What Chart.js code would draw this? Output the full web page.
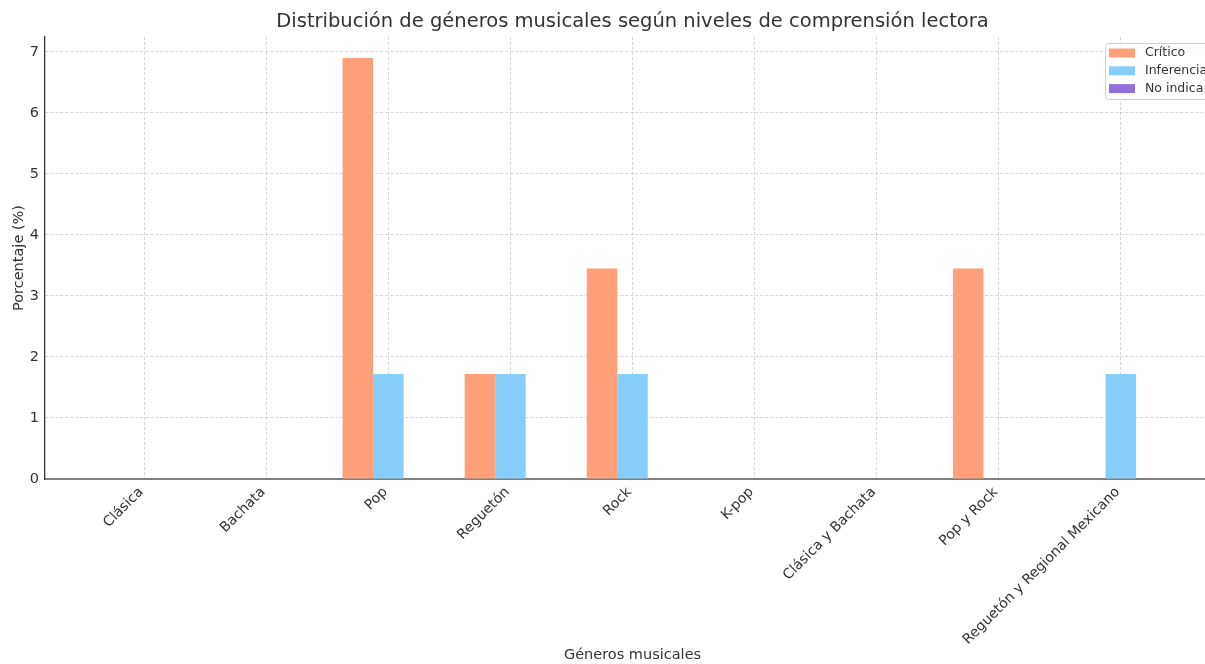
<!DOCTYPE html>
<html>
<head>
<meta charset="utf-8">
<script src="https://cdn.jsdelivr.net/npm/chart.js@4.4.1/dist/chart.umd.min.js"></script>
<style>
  html, body { margin: 0; padding: 0; background: #fff; overflow: hidden; }
  #wrap { width: 1220px; height: 664px; }
</style>
</head>
<body>
<div id="wrap"><canvas id="chart"></canvas></div>
<script>
const generos = ["Clásica", "Bachata", "Pop", "Reguetón", "Rock", "K-pop", "Clásica y Bachata", "Pop y Rock", "Reguetón y Regional Mexicano"];
const critico = [0, 0, 6.9, 1.72, 3.45, 0, 0, 3.45, 0];
const inferencia = [0, 0, 1.72, 1.72, 1.72, 0, 0, 0, 1.72];
const noIndica = [0, 0, 0, 0, 0, 0, 0, 0, 0];
const yTicks = [0, 1, 2, 3, 4, 5, 6, 7];

Chart.defaults.font.family = "'DejaVu Sans', sans-serif";
Chart.defaults.color = "#333";

const toPoints = (arr) => arr.map((v, i) => ({ x: i, y: v }));

// matplotlib-style boxed legend inside the plot, top right
const boxLegend = {
  id: "boxLegend",
  afterDraw(chart) {
    const { ctx, chartArea } = chart;
    const w = 111, h = 56;
    const x = chartArea.right - w - 4, y = chartArea.top + 6;
    ctx.save();
    ctx.fillStyle = "rgba(255,255,255,0.85)";
    ctx.strokeStyle = "#d0d0d0";
    ctx.lineWidth = 1;
    ctx.beginPath();
    ctx.roundRect(x + 0.5, y + 0.5, w, h, 3);
    ctx.fill();
    ctx.stroke();
    ctx.font = "12.5px 'DejaVu Sans'";
    ctx.textBaseline = "middle";
    chart.data.datasets.forEach((ds, i) => {
      const cy = y + 10 + i * 17.8;
      ctx.fillStyle = ds.backgroundColor;
      ctx.fillRect(x + 4, cy - 4.5, 26, 9);
      ctx.fillStyle = "#333";
      ctx.fillText(ds.label, x + 40, cy);
    });
    ctx.restore();
  },
};

// title centred over the plot area
const axesTitle = {
  id: "axesTitle",
  afterDraw(chart) {
    const { ctx, chartArea } = chart;
    ctx.save();
    ctx.font = "19.5px 'DejaVu Sans'";
    ctx.fillStyle = "#333";
    ctx.textAlign = "center";
    ctx.textBaseline = "middle";
    ctx.fillText("Distribución de géneros musicales según niveles de comprensión lectora", (chartArea.left + chartArea.right) / 2, 22);
    ctx.restore();
  },
};

new Chart(document.getElementById("chart"), {
  type: "bar",
  data: {
    datasets: [
      { label: "Crítico", data: toPoints(critico), backgroundColor: "#FFA07A" },
      { label: "Inferencia", data: toPoints(inferencia), backgroundColor: "#87CEFA" },
      { label: "No indica", data: toPoints(noIndica), backgroundColor: "#9370DB" },
    ],
  },
  options: {
    responsive: true,
    maintainAspectRatio: false,
    animation: false,
    layout: { padding: { top: 37, right: 0, left: 0, bottom: 0 } },
    datasets: { bar: { categoryPercentage: 0.75, barPercentage: 1, borderWidth: 0 } },
    plugins: { legend: { display: false }, tooltip: { enabled: false } },
    scales: {
      x: {
        type: "linear",
        min: -0.8125,
        max: 8.8125,
        offset: false,
        z: 1,
        afterBuildTicks: (s) => { s.ticks = generos.map((_, i) => ({ value: i })); },
        afterFit: (s) => { s.height = 185; },
        grid: { offset: false, color: "rgba(0,0,0,0.2)", lineWidth: 0.8, drawTicks: false },
        border: { color: "#808080", width: 2, dash: [3, 2] },
        ticks: {
          autoSkip: false,
          maxRotation: 45,
          minRotation: 45,
          padding: 5,
          labelOffset: -3,
          font: { size: 14 },
          callback: (v) => generos[v],
        },
        title: { display: true, text: "Géneros musicales", font: { size: 14.5 }, padding: { top: 0, bottom: 0 } },
      },
      y: {
        min: 0,
        max: 7.245,
        afterBuildTicks: (s) => { s.ticks = yTicks.map((v) => ({ value: v })); },
        afterFit: (s) => { s.width = 45; },
        grid: { color: "rgba(0,0,0,0.2)", lineWidth: 0.8, drawTicks: false },
        border: { color: "#333", width: 1.3, dash: [3, 2] },
        ticks: { padding: 6, font: { size: 14.5 } },
        title: { display: true, text: "Porcentaje (%)", font: { size: 14.5 }, padding: { top: 11, bottom: 0 } },
      },
    },
  },
  plugins: [boxLegend, axesTitle],
});
</script>
</body>
</html>
